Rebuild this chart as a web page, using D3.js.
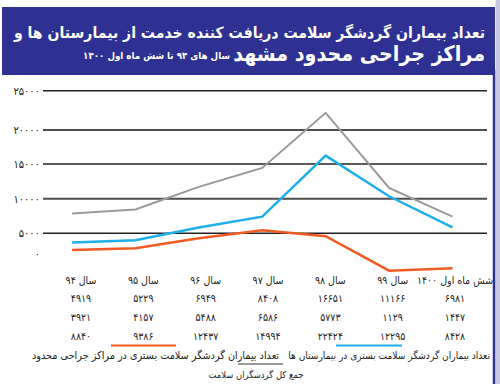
<!DOCTYPE html>
<html>
<head>
<meta charset="utf-8">
<script src="https://cdn.jsdelivr.net/npm/d3@7"></script>
<style>
  html, body { margin: 0; padding: 0; background: #fff; }
  svg { display: block; }
  text { font-family: "DejaVu Sans Condensed", "DejaVu Sans", sans-serif; }
</style>
</head>
<body>
<svg id="chart" width="500" height="384"></svg>
<script>
// ---- data ----
const categories = ["سال ۹۴", "سال ۹۵", "سال ۹۶", "سال ۹۷", "سال ۹۸", "سال ۹۹", "شش ماه اول ۱۴۰۰"];
const hospitals = [4919, 5229, 6949, 8408, 16651, 11166, 6981];   // blue
const surgeryCenters = [3921, 4157, 5488, 6586, 5773, 1129, 1447]; // orange
const totals = [8840, 9386, 12437, 14994, 22424, 12295, 8428];     // gray
const yTicks = [0, 5000, 10000, 15000, 20000, 25000];

const titleLine1 = "تعداد بیماران گردشگر سلامت دریافت کننده خدمت از بیمارستان ها و";
const titleLine2a = "مراکز جراحی محدود مشهد";
const titleLine2b = "سال های ۹۴ تا شش ماه اول ۱۴۰۰";
const legendHospitals = "تعداد بیماران گردشگر سلامت بستری در بیمارستان ها";
const legendSurgery = "تعداد بیماران گردشگر سلامت بستری در مراکز جراحی محدود";
const legendTotal = "جمع کل گردشگران سلامت";

const faDigits = "۰۱۲۳۴۵۶۷۸۹";
const toFa = n => String(n).replace(/[0-9]/g, d => faDigits[+d]);

const colors = { blue: "#1eaee9", orange: "#f15a22", gray: "#999999", frame: "#2e3192" };

const svg = d3.select("#chart");

// shrink a text's font size so that its rendered box fits a given width
function fit(sel, width, maxSize) {
  let size = maxSize;
  sel.attr("font-size", size);
  for (let k = 0; k < 3; k++) {
    const w = sel.node().getBBox().width;
    if (w <= width + 0.5) break;
    size = size * width / w;
    sel.attr("font-size", size.toFixed(2));
  }
  return sel;
}

// ---- frame / title ----
svg.append("rect").attr("x", 495.5).attr("y", 0).attr("width", 4.5).attr("height", 384).attr("fill", "#c9c9e6");
svg.append("rect").attr("x", 2).attr("y", 7).attr("width", 493).attr("height", 68).attr("fill", colors.frame);
svg.append("line").attr("x1", 494).attr("x2", 494).attr("y1", 70).attr("y2", 384)
  .attr("stroke", colors.frame).attr("stroke-width", 2.5);

fit(svg.append("text").attr("x", 485).attr("y", 38).attr("text-anchor", "end")
  .attr("fill", "#fff").attr("font-weight", "bold").text(titleLine1), 472, 24);
fit(svg.append("text").attr("x", 485).attr("y", 61).attr("text-anchor", "end")
  .attr("fill", "#fff").attr("font-weight", "bold").text(titleLine2a), 252, 24);
fit(svg.append("text").attr("x", 230).attr("y", 59).attr("text-anchor", "end")
  .attr("fill", "#fff").attr("font-weight", "bold").text(titleLine2b), 147, 14);

// ---- scales ----
const x = d3.scalePoint().domain(categories).range([72, 452.5]);
const xTable = d3.scalePoint().domain(categories).range([81, 455]);
// gridline/axis positions as drawn in the reference (uneven spacing)
const yAxis = d3.scaleLinear().domain(yTicks).range([254, 233.3, 198.7, 164, 130, 90.7]);
// value scale used for the plotted lines
const y = d3.scaleLinear().domain([0, 25000]).range([279, 93.75]);

// ---- gridlines & labels ----
const grid = svg.append("g");
yTicks.filter(t => t > 0).forEach(t => {
  const thick = (t === 20000 || t === 10000);
  grid.append("line").attr("x1", 43).attr("x2", 487)
    .attr("y1", yAxis(t)).attr("y2", yAxis(t))
    .attr("stroke", thick ? "#4d4d4d" : "#222")
    .attr("stroke-width", thick ? 2 : 1.4);
});
yTicks.forEach(t => {
  grid.append("text").attr("x", 40).attr("y", yAxis(t) + 4)
    .attr("text-anchor", "end").attr("font-size", 11).attr("fill", "#222")
    .text(toFa(t));
});

// ---- lines ----
const line = d3.line().x((d, i) => x(categories[i])).y(d => y(d));
[[totals, colors.gray, 2], [hospitals, colors.blue, 2.5], [surgeryCenters, colors.orange, 2.5]]
  .forEach(([data, c, w]) => {
    svg.append("path").datum(data).attr("d", line)
      .attr("fill", "none").attr("stroke", c).attr("stroke-width", w)
      .attr("stroke-linejoin", "miter");
  });

// ---- table ----
const table = svg.append("g").attr("font-size", 10.5).attr("fill", "#222").attr("text-anchor", "middle");
const rows = [[categories.map(c => c), 283.5], [hospitals.map(toFa), 301.5], [surgeryCenters.map(toFa), 320.5], [totals.map(toFa), 339.5]];
rows.forEach(([vals, yy]) => {
  vals.forEach((v, i) => {
    table.append("text").attr("x", xTable(categories[i])).attr("y", yy).text(v);
  });
});

// ---- legend ----
svg.append("line").attr("x1", 111).attr("x2", 176).attr("y1", 345.5).attr("y2", 345.5)
  .attr("stroke", colors.orange).attr("stroke-width", 2);
svg.append("line").attr("x1", 336).attr("x2", 402).attr("y1", 345.5).attr("y2", 345.5)
  .attr("stroke", colors.blue).attr("stroke-width", 2);
svg.append("line").attr("x1", 238).attr("x2", 283).attr("y1", 364).attr("y2", 364)
  .attr("stroke", colors.gray).attr("stroke-width", 2);

fit(svg.append("text").attr("x", 490).attr("y", 359).attr("text-anchor", "end")
  .attr("fill", "#222").text(legendHospitals), 202, 13);
fit(svg.append("text").attr("x", 279).attr("y", 359).attr("text-anchor", "end")
  .attr("fill", "#222").text(legendSurgery), 247, 13);
fit(svg.append("text").attr("x", 256).attr("y", 378).attr("text-anchor", "middle")
  .attr("fill", "#222").text(legendTotal), 95, 11);
</script>
</body>
</html>
